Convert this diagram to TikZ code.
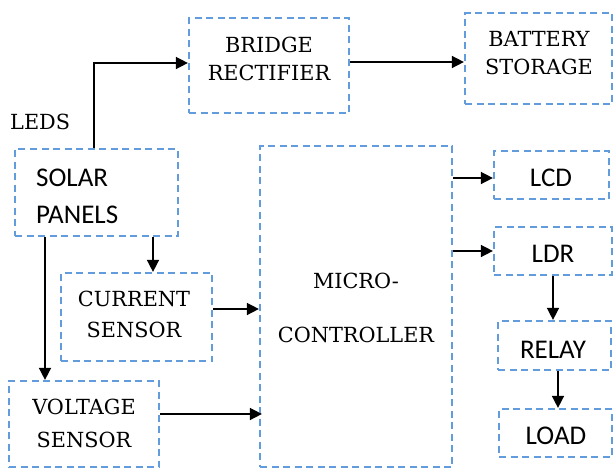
\documentclass[tikz,border=0pt]{standalone}
\usepackage{fontspec}
\setmainfont{DejaVu Serif}
\newfontfamily\blocksans{Carlito}
\usetikzlibrary{arrows.meta, positioning}

\definecolor{blockblue}{RGB}{98,156,220}

\tikzset{
  block/.style={draw=blockblue, line width=2.2pt, dash pattern=on 7pt off 4.5pt,
    inner sep=0pt},
  serifname/.style={align=center, inner sep=0pt,
    font=\fontsize{20.8}{28}\selectfont},
  sansname/.style={align=center, inner sep=0pt,
    font=\blocksans\fontsize{27}{36}\selectfont},
  link/.style={->, line width=1.5pt}
}

\begin{document}
\begin{tikzpicture}[x=1pt, y=-1pt, >={Triangle[length=12pt, width=12pt]}]
  \useasboundingbox (0,0) rectangle (614,469);
  % Blocks
  \node[block, minimum width=163pt, minimum height=87pt] (solar) at (96.5,192.5) {};
  \node[block, minimum width=160pt, minimum height=95pt] (bridge) at (269,65.5) {};
  \node[block, minimum width=147pt, minimum height=91pt] (battery) at (538.5,58.5) {};
  \node[block, minimum width=151pt, minimum height=88pt] (current) at (136.5,317) {};
  \node[block, minimum width=150pt, minimum height=86pt] (voltage) at (84,424) {};
  \node[block, minimum width=192pt, minimum height=321pt] (micro) at (356,306.5) {};
  \node[block, minimum width=115pt, minimum height=48pt] (lcd) at (551.5,175) {};
  \node[block, minimum width=118pt, minimum height=48pt] (ldr) at (553,251) {};
  \node[block, minimum width=113pt, minimum height=49pt] (relay) at (554.5,345.5) {};
  \node[block, minimum width=113pt, minimum height=48pt] (load) at (555.5,433) {};
  % Block names
  \node[serifname, anchor=west] (leds) at (10,122) {LEDS};
  \node[sansname, align=left, anchor=west, font=\blocksans\fontsize{27}{37}\selectfont]
    (solartxt) at (36,196.5) {SOLAR\\PANELS};
  \node[serifname] (bridgetxt) at (269,59) {BRIDGE\\RECTIFIER};
  \node[serifname] (batterytxt) at (539,53) {BATTERY\\STORAGE};
  \node[serifname, font=\fontsize{20.8}{31}\selectfont] (currenttxt) at (134,314.5) {CURRENT\\SENSOR};
  \node[serifname, font=\fontsize{20.8}{33}\selectfont] (voltagetxt) at (84,423.5) {VOLTAGE\\SENSOR};
  \node[serifname, font=\fontsize{20.8}{54}\selectfont] (microtxt) at (356,308) {MICRO-\\CONTROLLER};
  \node[sansname] (lcdtxt) at (551,178) {LCD};
  \node[sansname] (ldrtxt) at (553,254) {LDR};
  \node[sansname] (relaytxt) at (553,350) {RELAY};
  \node[sansname] (loadtxt) at (556,436) {LOAD};
  % Connections
  \draw[link] ([xshift=-2.5pt]solar.north) |- ([yshift=2.5pt]bridge.west);
  \draw[link] ([yshift=3.5pt]bridge.east) -- ([yshift=3.5pt]bridge.east -| battery.west);
  \draw[link] ([xshift=56.5pt]solar.south) -- ([xshift=56.5pt]solar.south |- current.north);
  \draw[link] ([xshift=-51.5pt]solar.south) -- ([xshift=-51.5pt]solar.south |- voltage.north);
  \draw[link] ([yshift=8pt]current.east) -- ([yshift=8pt]current.east -| micro.west);
  \draw[link] ([yshift=10pt]voltage.east) -- ([yshift=10pt,xshift=3pt]voltage.east -| micro.west);
  \draw[link] ([yshift=-3pt]lcd.west -| micro.east) -- ([yshift=-3pt]lcd.west);
  \draw[link] (ldr.west -| micro.east) -- (ldr.west);
  \draw[link] (ldr.south) -- (ldr.south |- relay.north);
  \draw[link] ([xshift=3.5pt]relay.south) -- ([xshift=3.5pt]relay.south |- load.north);
\end{tikzpicture}
\end{document}
